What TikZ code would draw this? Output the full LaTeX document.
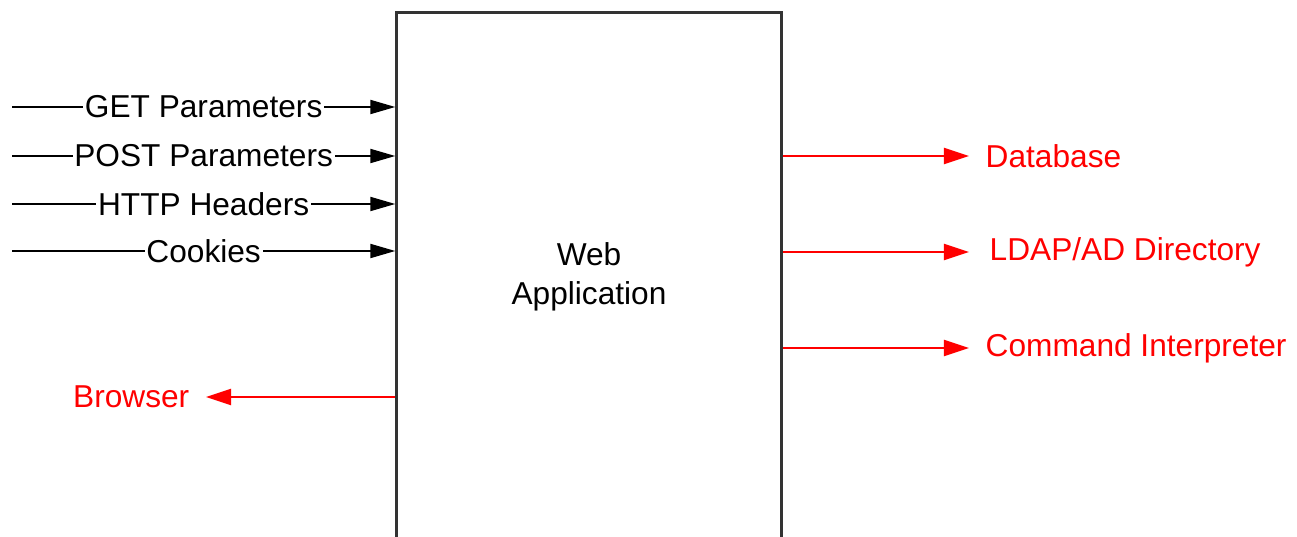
\documentclass[tikz,border=0pt]{standalone}
\usepackage{fontspec}
\setmainfont{Liberation Sans}
\usetikzlibrary{arrows.meta,positioning}
\begin{document}
\begin{tikzpicture}[x=0.01cm,y=-0.01cm,
    font=\fontsize{9}{11}\selectfont,
    inarrow/.style={line width=0.55pt,-{Triangle[length=2.5mm,width=1.4mm]}},
    outarrow/.style={line width=0.55pt,red,-{Triangle[length=2.5mm,width=1.6mm]}},
    inlabel/.style={midway,fill=white,inner sep=0.5pt},
    target/.style={text=red,inner sep=1.6mm}]
    \clip (0,0) rectangle (1297,537);
    %% Application
    \node[draw=black!80,line width=0.9pt,minimum width=3.84cm,minimum height=5.28cm,
        align=center] (app) at (589,277) {Web\\Application};
    %% Inputs
    \coordinate (get) at (12,107);
    \coordinate (post) at (12,156);
    \coordinate (hdr) at (12,204);
    \coordinate (cook) at (12,251);
    \draw[inarrow] (get) -- (get -| app.west) node[inlabel] {GET Parameters};
    \draw[inarrow] (post) -- (post -| app.west) node[inlabel] {POST Parameters};
    \draw[inarrow] (hdr) -- (hdr -| app.west) node[inlabel] {HTTP Headers};
    \draw[inarrow] (cook) -- (cook -| app.west) node[inlabel] {Cookies};
    %% Outputs
    \node[target,anchor=west] (db) at (969,156) {Database};
    \node[target,anchor=west] (ldap) at (973,252) {LDAP/AD Directory};
    \node[target,anchor=west] (cmd) at (969,348) {Command Interpreter};
    \node[target,anchor=east] (browser) at (206,397) {Browser};
    \draw[outarrow] (app.east |- db) -- (db.west);
    \draw[outarrow] (app.east |- ldap) -- (ldap.west -| db.west);
    \draw[outarrow] (app.east |- cmd) -- (cmd.west);
    \draw[outarrow] (app.west |- browser) -- (browser.east);
\end{tikzpicture}
\end{document}
